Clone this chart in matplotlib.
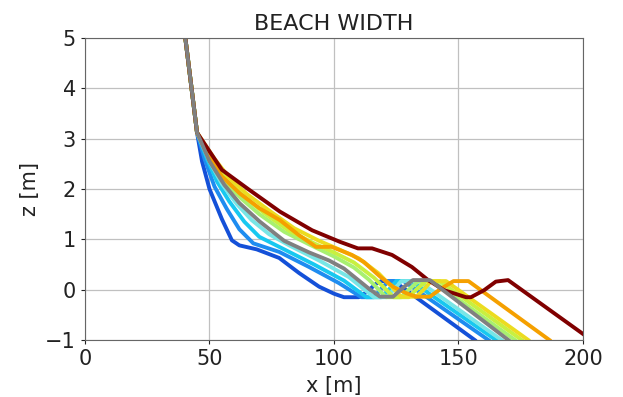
import matplotlib
matplotlib.use('Agg')
import matplotlib.pyplot as plt

# Cross-shore beach profiles
blue_x = [39.8, 45, 47, 50, 55, 59, 62, 69, 78, 86, 94, 100, 104, 110, 113, 117, 119, 124, 156.5]
blue_z = [5.2, 3.12, 2.55, 2.0, 1.4, 0.98, 0.88, 0.8, 0.63, 0.33, 0.06, -0.08, -0.15, -0.15, -0.05, 0.12, 0.17, 0.17, -1.0]

dodger_x = [39.8, 45, 48, 52, 57, 62, 67.6, 78, 90, 102, 111, 116, 119, 122, 128, 162]
dodger_z = [5.2, 3.12, 2.6, 2.05, 1.6, 1.2, 0.92, 0.75, 0.45, 0.13, -0.15, -0.15, 0.02, 0.17, 0.17, -1.0]

cyan_x = [39.8, 45, 49, 53, 58, 64, 70, 80, 92, 104, 113, 119, 122, 125, 131, 165]
cyan_z = [5.2, 3.12, 2.6, 2.15, 1.75, 1.35, 1.05, 0.8, 0.5, 0.18, -0.15, -0.15, 0.0, 0.17, 0.17, -1.0]

aqua_x = [39.8, 45, 50, 55, 61, 67, 74, 82, 94, 106, 116, 121, 124, 127, 134, 167.3]
aqua_z = [5.2, 3.12, 2.55, 2.1, 1.7, 1.38, 1.1, 0.88, 0.58, 0.25, -0.15, -0.15, 0.0, 0.17, 0.17, -1.0]

green_x = [39.8, 45, 51, 57, 63, 70, 80, 90, 100, 108, 114, 121, 127, 130, 134, 139.7, 172.7]
green_z = [5.2, 3.12, 2.55, 2.1, 1.8, 1.5, 1.15, 0.9, 0.66, 0.44, 0.2, -0.15, -0.15, 0.0, 0.17, 0.17, -1.0]

ygreen_x = [39.8, 45, 51, 57, 64, 72, 82, 92, 100, 108, 116, 124, 130, 133, 137, 142.4, 175.4]
ygreen_z = [5.2, 3.12, 2.6, 2.17, 1.85, 1.52, 1.17, 0.92, 0.74, 0.54, 0.24, -0.15, -0.15, 0.0, 0.17, 0.17, -1.0]

yellow_x = [39.8, 45, 52, 58, 65, 74, 84, 94, 102, 110, 118, 127, 133, 136, 139, 145, 178]
yellow_z = [5.2, 3.12, 2.6, 2.22, 1.9, 1.57, 1.22, 0.97, 0.8, 0.62, 0.32, -0.14, -0.14, 0.0, 0.17, 0.17, -1.0]

orange_x = [39.8, 45, 50, 55, 62.2, 70, 78.3, 86, 92.8, 99.1, 107.2, 112, 118.5, 124, 129, 133, 138.5, 143, 148, 154, 186.5]
orange_z = [5.2, 3.12, 2.62, 2.25, 1.91, 1.62, 1.38, 1.08, 0.85, 0.85, 0.69, 0.55, 0.26, 0.05, -0.07, -0.14, -0.14, 0.02, 0.17, 0.17, -1.0]

dred_x = [39.8, 45, 55, 65.5, 78.3, 91.2, 102.4, 109.6, 115.3, 123.3, 131.3, 137.8, 144.2, 153, 155, 160.3, 165, 169.9, 200]
dred_z = [5.2, 3.12, 2.38, 2.0, 1.55, 1.18, 0.95, 0.82, 0.82, 0.69, 0.45, 0.19, -0.01, -0.15, -0.15, -0.01, 0.16, 0.19, -0.88]

gray_x = [39.8, 45, 50, 56, 62, 70, 80, 90, 98, 104, 109, 114, 118.5, 123.7, 128, 131.7, 138.5, 170]
gray_z = [5.2, 3.12, 2.55, 2.08, 1.72, 1.36, 0.97, 0.74, 0.58, 0.42, 0.22, 0.02, -0.14, -0.14, 0.05, 0.19, 0.19, -1.0]

profiles = [
    (blue_x, blue_z, '#1450d8'),
    (dodger_x, dodger_z, '#1e8cf0'),
    (cyan_x, cyan_z, '#18c8f0'),
    (aqua_x, aqua_z, '#78e6e6'),
    (green_x, green_z, '#a8f070'),
    (ygreen_x, ygreen_z, '#c8f040'),
    (yellow_x, yellow_z, '#ecdc20'),
    (orange_x, orange_z, '#f5a000'),
    (dred_x, dred_z, '#800000'),
    (gray_x, gray_z, '#808080'),
]

if __name__ == '__main__':
    fig = plt.figure(figsize=(6.23, 3.97), dpi=100)
    ax = fig.add_axes([0.1364, 0.1436, 0.7994, 0.7607])

    for x, z, c in profiles:
        ax.plot(x, z, color=c, lw=2.8)

    ax.set_xlim(0, 200)
    ax.set_ylim(-1, 5)
    ax.set_xticks([0, 50, 100, 150, 200])
    ax.set_yticks([-1, 0, 1, 2, 3, 4, 5])
    ax.grid(True, color='#c0c0c0', lw=0.9)
    ax.set_axisbelow(True)
    for s in ax.spines.values():
        s.set_color('#666666')
    ax.tick_params(labelsize=15, colors='#222222', length=3)
    ax.set_title('BEACH WIDTH', fontsize=16, color='#222222')
    ax.set_xlabel('x [m]', fontsize=15, color='#222222', labelpad=5)
    ax.set_ylabel('z [m]', fontsize=15, color='#222222')

    fig.savefig('out.png', dpi=100)
